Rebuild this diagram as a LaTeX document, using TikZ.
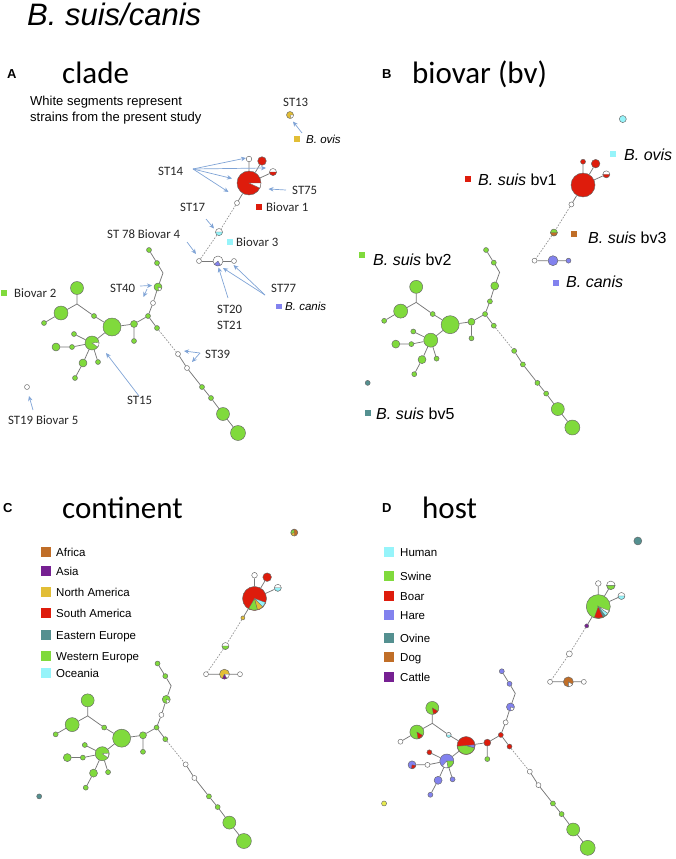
\documentclass[tikz,border=0pt]{standalone}
\usepackage{fontspec}
\setmainfont{Liberation Sans}
\newfontfamily\calib{Carlito}
\usetikzlibrary{arrows.meta,backgrounds}
\definecolor{mgreen}{RGB}{128,218,60}
\definecolor{mred}{RGB}{222,28,12}
\definecolor{mcyan}{RGB}{150,244,250}
\definecolor{mblue}{RGB}{130,130,238}
\definecolor{mteal}{RGB}{84,144,144}
\definecolor{mbrown}{RGB}{192,110,40}
\definecolor{mpurple}{RGB}{118,32,146}
\definecolor{myellow}{RGB}{226,190,54}
\definecolor{mpale}{RGB}{232,236,80}
\definecolor{arblue}{RGB}{128,164,214}
\definecolor{egray}{RGB}{120,120,120}
\tikzset{
  v/.style={circle, draw=black!60, line width=0.45pt, inner sep=0pt},
  e/.style={draw=egray, line width=0.75pt},
  ed/.style={draw=egray!80, line width=0.7pt, dash pattern=on 1.6pt off 1.4pt},
  lbl/.style={anchor=base west, inner sep=0pt, font=\calib\fontsize{12.8}{14}\selectfont, text=black!85},
  ptitle/.style={anchor=base west, inner sep=0pt, font=\calib\fontsize{31}{34}\selectfont},
  plet/.style={anchor=base west, inner sep=0pt, font=\bfseries\fontsize{13}{15}\selectfont},
  sq/.style={inner sep=0pt, minimum size=5.5pt, draw=none},
  bsq/.style={inner sep=0pt, minimum size=6pt, draw=none},
  lsq/.style={inner sep=0pt, minimum size=10pt, draw=none},
  ltx/.style={anchor=base west, inner sep=0pt, font=\fontsize{11.5}{13}\selectfont},
  btx/.style={anchor=base west, inner sep=0pt, font=\fontsize{16}{18}\selectfont},
  atx/.style={anchor=base west, inner sep=0pt, font=\itshape\fontsize{11.5}{13}\selectfont},
  ar/.style={draw=arblue, line width=0.7pt, -{Stealth[length=5pt,width=4.5pt]}},
}
\newcommand\vx[4]{\node[v,minimum size=#3,fill=#4] (#1) at (#2) {};}
\newcommand\seg[5]{\filldraw[fill=#3,draw=black!60,line width=0.3pt] (#1.center) -- ++(#4:#2) arc[start angle=#4,end angle=#5,radius=#2] -- cycle;}
\newcommand\resetcols{%
 \def\kov{white}\def\kR{mred}\def\kRw{white}\def\kRr{mred}\def\kRh{white}%
 \def\kWa{white}\def\kS{white}\def\kWb{white}\def\kC{white}\def\kWc{white}%
 \def\kGa{mgreen}\def\kGb{mgreen}\def\kSf{mgreen}\def\kWd{white}\def\kGc{mgreen}\def\kGd{mgreen}%
 \def\kWe{white}\def\kWf{white}\def\kGe{mgreen}\def\kGf{mgreen}\def\kGg{mgreen}\def\kGh{mgreen}%
 \def\kGi{mgreen}\def\kGj{mgreen}\def\kBG{mgreen}\def\kGk{mgreen}\def\kGl{mgreen}\def\kGm{mgreen}%
 \def\kGn{mgreen}\def\kSo{mgreen}\def\kGo{mgreen}\def\kGp{mgreen}\def\kGq{mgreen}\def\kGr{mgreen}%
 \def\kGs{mgreen}\def\kGt{mgreen}\def\kSn{white}%
 \def\kSov{7pt}\def\kSRw{5.6pt}\def\kSWa{5pt}\def\kSS{7pt}\def\kSWc{5pt}}
\newcommand\mst[1]{%
 \vx{#1ov}{290,115}{\kSov}{\kov}
 \vx{#1R}{249,183}{24pt}{\kR}
 \vx{#1Rw}{249,159}{\kSRw}{\kRw}
 \vx{#1Rr}{262,161}{8.6pt}{\kRr}
 \vx{#1Rh}{273,172}{7pt}{\kRh}
 \vx{#1Wa}{237,203}{\kSWa}{\kWa}
 \vx{#1S}{219,232}{\kSS}{\kS}
 \vx{#1Wb}{199,261}{5pt}{\kWb}
 \vx{#1C}{218,261}{10pt}{\kC}
 \vx{#1Wc}{234,261}{\kSWc}{\kWc}
 \vx{#1Ga}{149,250}{5pt}{\kGa}
 \vx{#1Gb}{157,263}{5pt}{\kGb}
 \coordinate (#1b1) at (163,273);
 \vx{#1Sf}{158,287}{8pt}{\kSf}
 \vx{#1Wd}{153,303}{5pt}{\kWd}
 \vx{#1Gc}{148,316}{5pt}{\kGc}
 \vx{#1Gd}{157,328}{5pt}{\kGd}
 \vx{#1We}{178,354}{5pt}{\kWe}
 \vx{#1Wf}{187,368}{5pt}{\kWf}
 \vx{#1Ge}{202,387}{5pt}{\kGe}
 \vx{#1Gf}{211,398}{5pt}{\kGf}
 \vx{#1Gg}{223,414}{13pt}{\kGg}
 \vx{#1Gh}{238,433}{15pt}{\kGh}
 \vx{#1Gi}{134,324}{7pt}{\kGi}
 \vx{#1Gj}{134,341}{5pt}{\kGj}
 \vx{#1BG}{112,327}{18pt}{\kBG}
 \vx{#1Gk}{94,316}{5pt}{\kGk}
 \coordinate (#1J) at (77,304);
 \vx{#1Gl}{77,288}{13pt}{\kGl}
 \vx{#1Gm}{61,313}{14pt}{\kGm}
 \vx{#1Gn}{44,323}{5pt}{\kGn}
 \vx{#1So}{92,343}{14pt}{\kSo}
 \vx{#1Go}{74,334}{5pt}{\kGo}
 \vx{#1Gp}{72,347}{5pt}{\kGp}
 \vx{#1Gq}{56,347}{8pt}{\kGq}
 \vx{#1Gr}{83,363}{8pt}{\kGr}
 \vx{#1Gs}{98,362}{5pt}{\kGs}
 \vx{#1Gt}{75,378}{5pt}{\kGt}
 \vx{#1Sn}{27,387}{5pt}{\kSn}
 \begin{pgfonlayer}{background}
 \draw[e] (#1R)--(#1Rw) (#1R)--(#1Rr) (#1R)--(#1Rh) (#1R)--(#1Wa);
 \draw[ed] (#1Wa)--(#1S)--(#1Wb);
 \draw[e] (#1Wb)--(#1C)--(#1Wc);
 \draw[e] (#1Ga)--(#1Gb)--(#1b1)--(#1Sf)--(#1Wd)--(#1Gc)--(#1Gd);
 \draw[ed] (#1Gd)--(#1We);
 \draw[e] (#1We)--(#1Wf)--(#1Ge)--(#1Gf)--(#1Gg)--(#1Gh);
 \draw[e] (#1Gc)--(#1Gi)--(#1Gj) (#1Gi)--(#1BG)--(#1Gk)--(#1J)--(#1Gl) (#1J)--(#1Gm)--(#1Gn);
 \draw[e] (#1BG)--(#1So)--(#1Go) (#1So)--(#1Gp)--(#1Gq) (#1So)--(#1Gr)--(#1Gt) (#1So)--(#1Gs);
 \end{pgfonlayer}}
\begin{document}
\begin{tikzpicture}[x=1pt,y=-1pt]
\useasboundingbox (0,0) rectangle (676,859);
\node[anchor=base west, inner sep=0pt, font=\itshape\fontsize{31}{34}\selectfont] (title) at (27,26) {B. suis/canis};

% ---------------- Panel A ----------------
\node[plet] (la) at (7,78) {A};
\node[ptitle] (ta) at (62,83) {clade};
\node[anchor=base west, inner sep=0pt, font=\fontsize{13}{15}\selectfont] (wa1) at (30,105.5) {White segments represent};
\node[anchor=base west, inner sep=0pt, font=\fontsize{13}{15}\selectfont] (wa2) at (30,121.5) {strains from the present study};
\begin{scope}
 \resetcols
 \def\kov{myellow}\def\kRh{white}\def\kS{white}\def\kSn{white}
 \mst{a}
 \seg{aov}{3.5pt}{white}{-70}{0}
 \seg{aR}{12pt}{white}{-25}{0}
 \seg{aRh}{3.5pt}{mred}{180}{360}
 \seg{aS}{3.5pt}{mcyan}{180}{360}
 \seg{aC}{5pt}{mblue}{220}{300}
 \seg{aSf}{4pt}{white}{-80}{-20}
 \seg{aSo}{7pt}{white}{-35}{5}
\end{scope}
\node[lbl] (st13) at (283,106) {ST13};
\node[lbl] (st14) at (158,175) {ST14};
\node[lbl] (st75) at (292,194) {ST75};
\node[lbl] (st17) at (180,211) {ST17};
\node[lbl] (st78) at (107,238) {ST 78 Biovar 4};
\node[lbl] (st40) at (110,292) {ST40};
\node[lbl] (st77) at (271,292.5) {ST77};
\node[lbl] (st20) at (217,313) {ST20};
\node[lbl] (st21) at (217,329) {ST21};
\node[lbl] (st39) at (205,358) {ST39};
\node[lbl] (st15) at (127,404) {ST15};
\node[lbl] (st19) at (8,424) {ST19 Biovar 5};
\node[sq, fill=myellow] (qov) at (297,139) {};
\node[atx] (tov) at (306,143) {B. ovis};
\node[sq, fill=mred] (qb1) at (259,207) {};
\node[lbl] (tb1) at (266,211) {Biovar 1};
\node[sq, fill=mcyan] (qb3) at (230,242) {};
\node[lbl] (tb3) at (236,246) {Biovar 3};
\node[sq, fill=mgreen] (qb2) at (4,293) {};
\node[lbl] (tb2) at (14,297) {Biovar 2};
\node[sq, fill=mblue] (qca) at (279,306.5) {};
\node[atx] (tca) at (285,310.5) {B. canis};
% arrows
\coordinate (k13t) at (302,133); \coordinate (k13h) at (293,121.5);
\draw[ar] (k13t) -- (k13h);
\coordinate (k14) at (193,169);
\coordinate (k14a) at (246,158); \coordinate (k14b) at (266,168);
\coordinate (k14c) at (232,178.5); \coordinate (k14d) at (228.5,192);
\draw[ar] (k14) -- (k14a); \draw[ar] (k14) -- (k14b);
\draw[ar] (k14) -- (k14c); \draw[ar] (k14) -- (k14d);
\coordinate (k75t) at (286,190); \coordinate (k75h) at (268.5,189);
\draw[ar] (k75t) -- (k75h);
\coordinate (k17t) at (206,219); \coordinate (k17h) at (214,228.5);
\draw[ar] (k17t) -- (k17h);
\coordinate (k78t) at (187,242); \coordinate (k78h) at (196,254);
\draw[ar] (k78t) -- (k78h);
\coordinate (k40t) at (140,286); \coordinate (k40h) at (152,285.5);
\coordinate (k40u) at (147,289); \coordinate (k40v) at (143.5,297);
\draw[ar] (k40t) -- (k40h); \draw[ar] (k40u) -- (k40v);
\coordinate (k20t) at (228,298); \coordinate (k20h) at (218.5,267.5);
\draw[ar] (k20t) -- (k20h);
\coordinate (k77t) at (265,295); \coordinate (k77a) at (223,268); \coordinate (k77b) at (233.5,265);
\draw[ar] (k77t) -- (k77a); \draw[ar] (k77t) -- (k77b);
\coordinate (k39t) at (200,353); \coordinate (k39a) at (184,351); \coordinate (k39b) at (192,362);
\draw[ar] (k39t) -- (k39a); \draw[ar] (k39t) -- (k39b);
\coordinate (k15t) at (139,396); \coordinate (k15h) at (106,353);
\draw[ar] (k15t) -- (k15h);
\coordinate (k19t) at (33,410); \coordinate (k19h) at (29,396);
\draw[ar] (k19t) -- (k19h);

% ---------------- Panel B ----------------
\node[plet] (lb) at (382,78) {B};
\node[ptitle] (tbv) at (412,83) {biovar (bv)};
\begin{scope}[shift={(341.5,7.5)}, scale=0.97]
 \resetcols
 \def\kov{mcyan}\def\kRw{mred}\def\kSRw{5pt}\def\kS{mgreen}\def\kC{mblue}\def\kWc{mblue}
 \def\kWd{mgreen}\def\kWe{mgreen}\def\kWf{mgreen}\def\kSn{mteal}
 \mst{b}
 \seg{bRh}{3.5pt}{mred}{180}{360}
 \seg{bS}{3.5pt}{mbrown}{180}{360}
\end{scope}
\node[bsq, fill=mcyan] (bq1) at (613,154) {};
\node[btx] (bt1) at (624,160.5) {\textit{B. ovis}};
\node[bsq, fill=mred] (bq2) at (468,179) {};
\node[btx] (bt2) at (478,185) {\textit{B. suis} bv1};
\node[bsq, fill=mbrown] (bq3) at (574,234) {};
\node[btx] (bt3) at (588,243) {\textit{B. suis} bv3};
\node[bsq, fill=mgreen] (bq4) at (362,255) {};
\node[btx] (bt4) at (373,265) {\textit{B. suis} bv2};
\node[bsq, fill=mblue] (bq5) at (556,283) {};
\node[btx] (bt5) at (566,287.5) {\textit{B. canis}};
\node[bsq, fill=mteal] (bq6) at (368,413) {};
\node[btx] (bt6) at (376,419) {\textit{B. suis} bv5};

% ---------------- Panel C ----------------
\node[plet] (lc) at (3,512) {C};
\node[ptitle] (tco) at (62,518) {continent};
\foreach \n/\c/\t/\y in {1/mbrown/Africa/552, 2/mpurple/Asia/571, 3/myellow/North America/592, 4/mred/South America/613, 5/mteal/Eastern Europe/635, 6/mgreen/Western Europe/656, 7/mcyan/Oceania/673}{
  \node[lsq, fill=\c] (cq\n) at (45.5,\y) {};
  \node[ltx] (ct\n) at (56,\y+4.1) {\t};
}
\begin{scope}[shift={(13,421)}, scale=0.97]
 \resetcols
 \def\kov{mbrown}\def\kRh{white}\def\kWa{myellow}\def\kSWa{4pt}\def\kC{myellow}\def\kSn{mteal}
 \mst{c}
 \seg{cov}{3.5pt}{mgreen}{100}{200}
 \seg{cov}{3.5pt}{myellow}{200}{270}
 \seg{cR}{12pt}{mgreen}{-120}{-75}
 \seg{cR}{12pt}{myellow}{-75}{-45}
 \seg{cR}{12pt}{mcyan}{-45}{-20}
 \seg{cRh}{3.5pt}{mcyan}{180}{360}
 \seg{cS}{3.5pt}{mgreen}{180}{360}
 \seg{cC}{5pt}{mpurple}{245}{300}
 \seg{cC}{5pt}{white}{300}{360}
 \seg{cSf}{4pt}{white}{-80}{-20}
 \seg{cSo}{7pt}{white}{-35}{5}
\end{scope}

% ---------------- Panel D ----------------
\node[plet] (ld) at (382,512) {D};
\node[ptitle] (tho) at (422,518) {host};
\foreach \n/\c/\t/\y in {1/mcyan/Human/552, 2/mgreen/Swine/576, 3/mred/Boar/596, 4/mblue/Hare/615, 5/mteal/Ovine/638, 6/mbrown/Dog/657, 7/mpurple/Cattle/677}{
  \node[lsq, fill=\c] (dq\n) at (389,\y) {};
  \node[ltx] (dt\n) at (400,\y+4.1) {\t};
}
\begin{scope}[shift={(358,430)}, scale=0.965]
 \resetcols
 \def\kov{mteal}\def\kSov{8pt}\def\kR{mgreen}\def\kRr{white}\def\kRh{white}
 \def\kWa{mpurple}\def\kSWa{4pt}\def\kS{white}\def\kSS{6pt}\def\kC{mbrown}
 \def\kGa{mblue}\def\kGb{mblue}\def\kSf{mblue}\def\kGc{mred}\def\kGd{mred}
 \def\kGi{mred}\def\kBG{mred}\def\kGk{mcyan}\def\kGn{white}\def\kSo{mblue}
 \def\kGo{mred}\def\kGp{white}\def\kGq{mblue}\def\kGr{mblue}\def\kGs{mblue}\def\kGt{mblue}
 \def\kSn{mpale}
 \mst{d}
 \seg{dR}{12pt}{mred}{-110}{-65}
 \seg{dR}{12pt}{mteal}{-65}{-52}
 \seg{dR}{12pt}{mcyan}{-52}{-35}
 \seg{dR}{12pt}{white}{-35}{-20}
 \seg{dRr}{4.3pt}{mgreen}{180}{360}
 \seg{dRh}{3.5pt}{mcyan}{180}{360}
 \seg{dC}{5pt}{white}{-90}{-30}
 \seg{dSf}{4pt}{white}{-80}{-20}
 \seg{dBG}{9pt}{mgreen}{185}{345}
 \seg{dBG}{9pt}{mblue}{345}{365}
 \seg{dGk}{2.5pt}{white}{0}{180}
 \seg{dGl}{6.5pt}{mred}{-80}{-30}
 \seg{dGm}{7pt}{mred}{-80}{-30}
 \seg{dSo}{7pt}{mgreen}{-80}{0}
 \seg{dSo}{7pt}{white}{-130}{-80}
 \seg{dGq}{4pt}{mred}{-100}{-10}
\end{scope}
\end{tikzpicture}
\end{document}
